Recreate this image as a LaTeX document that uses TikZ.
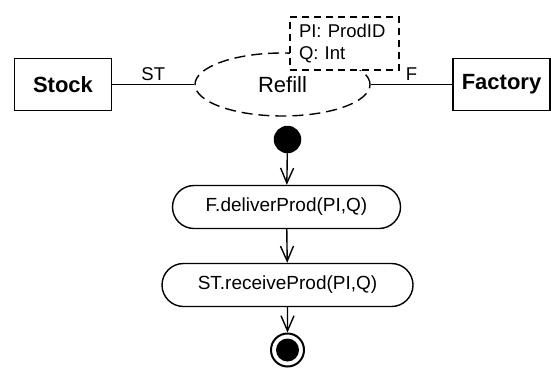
\documentclass[tikz,border=0pt]{standalone}
\usepackage{fontspec}
\setmainfont{Liberation Sans}
\usetikzlibrary{arrows.meta}
\usetikzlibrary{shapes.geometric}
\usetikzlibrary{shapes.misc}

\begin{document}
\begin{tikzpicture}[x=1pt, y=-1pt,
		party/.style={rectangle, draw, line width=1.6pt, minimum width=97pt, minimum height=52pt, inner sep=0pt, font=\fontsize{22}{26}\selectfont\bfseries},
		collab/.style={ellipse, draw, dash pattern=on 11pt off 6pt, line width=1.4pt, minimum width=175pt, minimum height=63pt, inner sep=0pt, font=\fontsize{22}{26}\selectfont},
		note/.style={rectangle, draw, fill=white, dash pattern=on 7pt off 5pt, line width=1.4pt, minimum width=109pt, minimum height=53pt, text width=91pt, inner xsep=9pt, inner ysep=4pt, align=left, font=\fontsize{18.5}{22}\selectfont},
		action/.style={rounded rectangle, draw, line width=1.4pt, minimum height=43pt, inner sep=0pt, font=\fontsize{19}{22}\selectfont},
		initial/.style={circle, fill, minimum size=27.5pt, inner sep=0pt, outer sep=0pt},
		final/.style={circle, draw, line width=2pt, minimum size=33pt, inner sep=0pt, path picture={\fill (path picture bounding box.center) circle (11.5pt);}},
		flow/.style={-{Straight Barb[length=15pt, width=13pt, line width=1.4pt]}, line width=1.4pt},
		role/.style={font=\fontsize{18.5}{22}\selectfont, inner sep=3pt}]
		\useasboundingbox (0,0) rectangle (551,367);
		\node[party] at (63,84.5) (stock) {Stock};
		\node[party] at (501.5,84.5) (factory) {Factory};
		\node[collab] at (282.5,84.5) (refill) {\raisebox{-3pt}{Refill}};
		\node[note] at (344.5,43.5) (params) {PI: ProdID\\Q: Int};
		\draw[line width=1.4pt] (stock) -- node[role, above] (st) {ST} (refill);
		\draw[line width=1.4pt] (refill) -- node[role, above] (f) {F} (factory);
		\node[initial] at (287.5,139.5) (start) {};
		\node[action, minimum width=228pt] at (286.5,207) (deliver) {F.deliverProd(PI,Q)};
		\node[action, minimum width=251pt] at (287.5,285) (receive) {ST.receiveProd(PI,Q)};
		\node[final] at (287.5,350) (stop) {};
		\draw[flow] (start) -- (deliver);
		\draw[flow] (deliver) -- (receive);
		\draw[flow] (receive) -- (stop);
	\end{tikzpicture}
\end{document}
